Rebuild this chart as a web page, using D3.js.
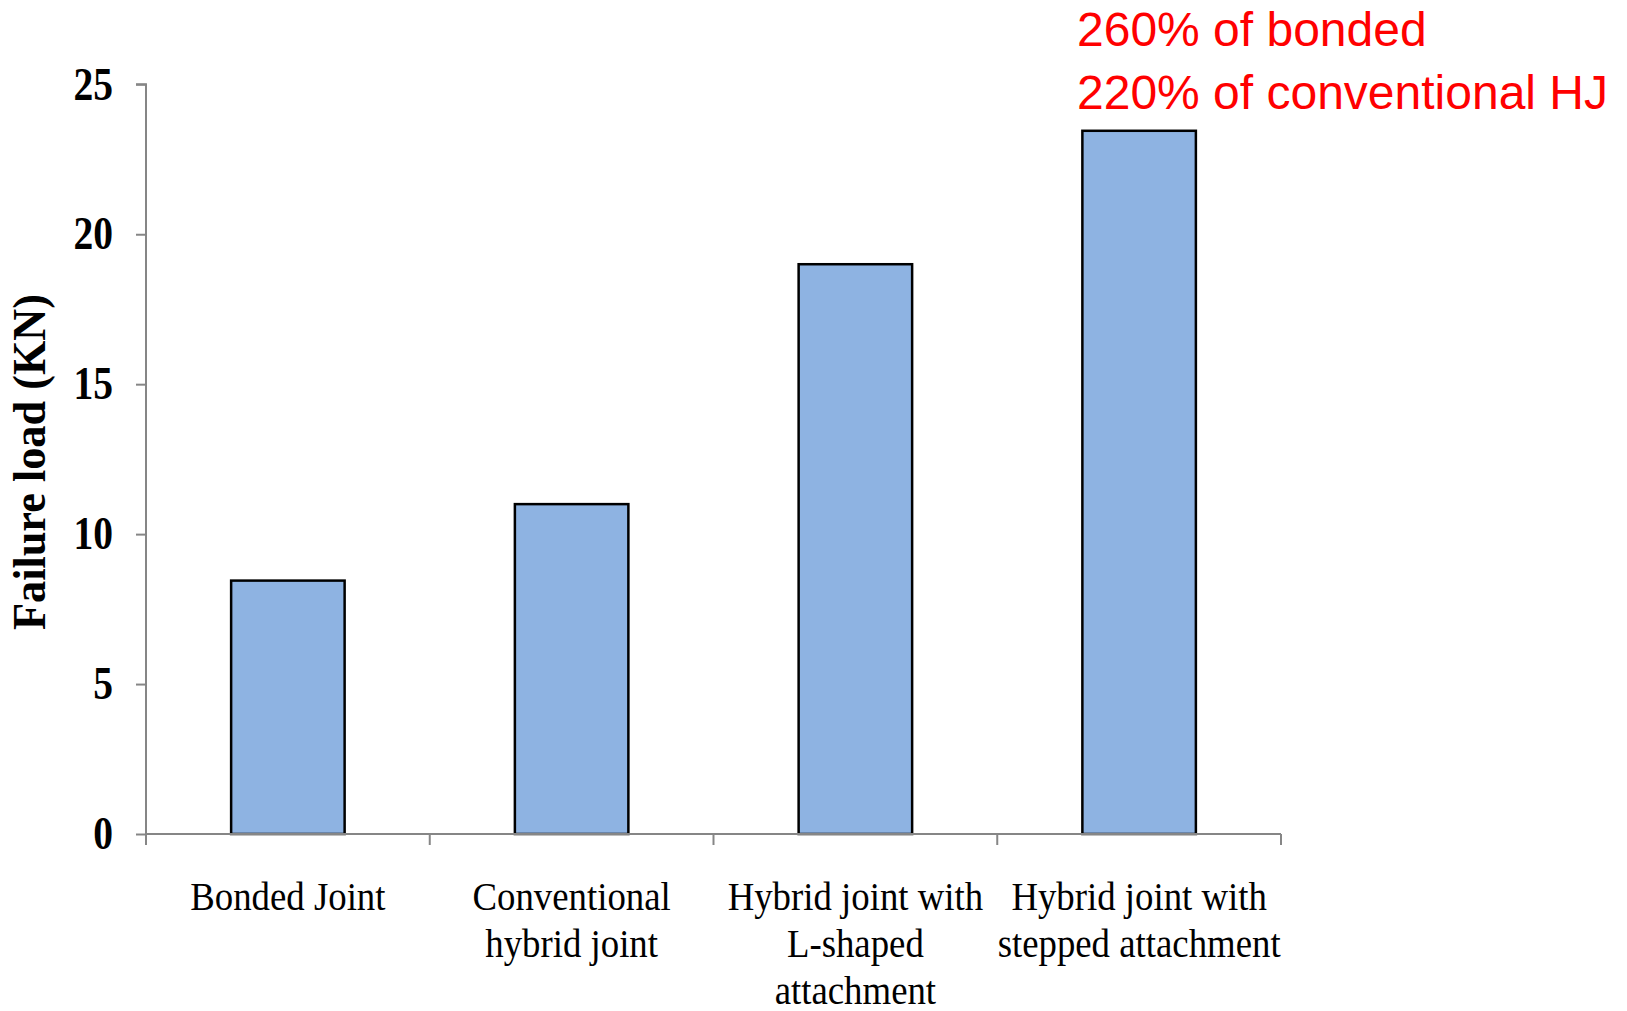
<!DOCTYPE html>
<html>
<head>
<meta charset="utf-8">
<script src="https://cdn.jsdelivr.net/npm/d3@7"></script>
<style>
  html, body { margin: 0; padding: 0; background: #fff; }
  svg { display: block; }
</style>
</head>
<body>
<svg id="chart" width="1627" height="1011"></svg>
<script>
// Failure load of the four joint configurations
const categories = [
  ["Bonded Joint"],
  ["Conventional", "hybrid joint"],
  ["Hybrid joint with", "L-shaped", "attachment"],
  ["Hybrid joint with", "stepped attachment"]
];
const failureLoad = [8.45, 11.0, 19.0, 23.45];
const yTicks = [0, 5, 10, 15, 20, 25];
const yTitle = "Failure load (KN)";
const noteLines = ["260% of bonded", "220% of conventional HJ"];

const svg = d3.select("#chart");
const plotLeft = 146, plotRight = 1281, plotTop = 84.3, plotBottom = 834;

const keys = categories.map((c, i) => i);
const x = d3.scaleBand().domain(keys).range([plotLeft, plotRight])
  .paddingInner(0.6).paddingOuter(0.3);
const y = d3.scaleLinear().domain([0, 25]).range([plotBottom, plotTop]);

const axisColor = "#868686";

// Bars
svg.append("g").selectAll("rect").data(failureLoad).join("rect")
  .attr("x", (d, i) => x(i))
  .attr("y", d => y(d))
  .attr("width", x.bandwidth())
  .attr("height", d => y(0) - y(d))
  .attr("fill", "#8EB3E2")
  .attr("stroke", "#000")
  .attr("stroke-width", 2.5);

// Y axis
const yAxis = svg.append("g")
  .attr("transform", `translate(${plotLeft},0)`)
  .call(d3.axisLeft(y).tickValues(yTicks).tickSize(10).tickFormat(d3.format("d")));
yAxis.select(".domain").attr("stroke", axisColor).attr("stroke-width", 2)
  .attr("d", `M-10,${y(25)}H0V${y(0)}`);
yAxis.selectAll(".tick line").attr("stroke", axisColor).attr("stroke-width", 2);
yAxis.selectAll(".tick text")
  .attr("x", null)
  .attr("dy", "0.32em")
  .attr("transform", "translate(-33,0) scale(0.86,1)")
  .attr("fill", "#000")
  .style("font-family", "'Liberation Serif', 'Times New Roman', serif")
  .style("font-weight", "bold")
  .style("font-size", "46px")
  .attr("text-anchor", "end");

// X axis baseline and category ticks
const xg = svg.append("g");
xg.append("line")
  .attr("x1", plotLeft).attr("x2", plotRight)
  .attr("y1", y(0)).attr("y2", y(0))
  .attr("stroke", axisColor).attr("stroke-width", 2);
const boundaries = d3.range(categories.length + 1).map(i => plotLeft + i * x.step());
xg.selectAll("line.tick").data(boundaries).join("line")
  .attr("class", "tick")
  .attr("x1", d => d).attr("x2", d => d)
  .attr("y1", y(0)).attr("y2", y(0) + 11)
  .attr("stroke", axisColor).attr("stroke-width", 2);

// Category labels
const lab = svg.append("g")
  .style("font-family", "'Liberation Serif', 'Times New Roman', serif")
  .style("font-size", "40px")
  .attr("fill", "#000");
categories.forEach((lines, i) => {
  const cx = x(i) + x.bandwidth() / 2;
  lines.forEach((t, j) => {
    lab.append("text")
      .attr("transform", `translate(${cx},${910 + j * 47}) scale(0.92,1)`)
      .attr("text-anchor", "middle")
      .text(t);
  });
});

// Y axis title
svg.append("text")
  .attr("transform", `translate(45,462) rotate(-90)`)
  .attr("text-anchor", "middle")
  .attr("textLength", 336)
  .attr("lengthAdjust", "spacingAndGlyphs")
  .style("font-family", "'Liberation Serif', 'Times New Roman', serif")
  .style("font-weight", "bold")
  .style("font-size", "46px")
  .text(yTitle);

// Red note above the tallest bar
const note = svg.append("g")
  .style("font-family", "'Liberation Sans', Arial, sans-serif")
  .style("font-size", "48px")
  .attr("fill", "#FF0000");
noteLines.forEach((t, j) => {
  note.append("text").attr("x", 1077).attr("y", 45.5 + j * 63.5).text(t);
});
</script>
</body>
</html>
